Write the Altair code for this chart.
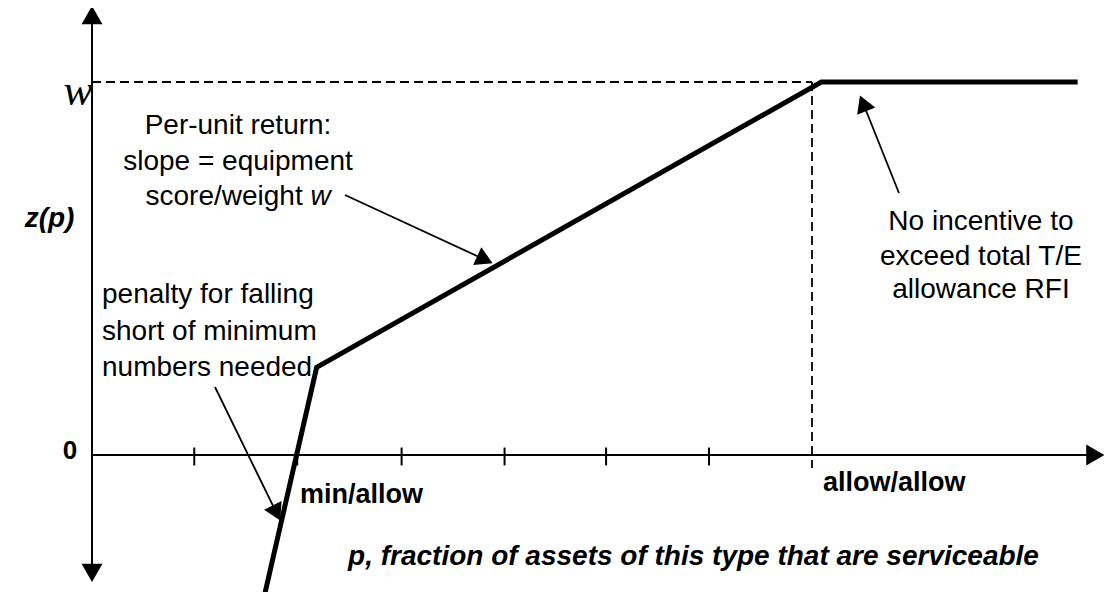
import math
import altair as alt
import pandas as pd

# ---------------- scale set-up (data units: p = fraction, z = score, W = 1) -------------
X_DOMAIN = [-0.1167, 1.4056]
Y_DOMAIN = [-0.3673, 1.1984]
WIDTH, HEIGHT = 1096, 584
KX = WIDTH / (X_DOMAIN[1] - X_DOMAIN[0])
KY = HEIGHT / (Y_DOMAIN[1] - Y_DOMAIN[0])

# ---------------- data ----------------
curve_p = [0.238, 0.312, 1.013, 1.369]
curve_z = [-0.389, 0.235, 1.0, 1.0]

tick_p = [0.142, 0.285, 0.430, 0.573, 0.714, 0.857]
allow_p = 1.0
w_level = 1.0

# annotation arrows: start (p, z) -> tip (p, z)
arrow_from_p = [0.3514, 0.1708, 1.1208]
arrow_from_z = [0.6971, 0.1823, 0.7024]
arrow_to_p = [0.5528, 0.2597, 1.0681]
arrow_to_z = [0.5174, -0.1689, 0.9571]

# axis extents (arrow tips)
yaxis_top, yaxis_bottom = 1.1957, -0.3324
xaxis_right = 1.402

# text blocks
per_unit_lines = ["Per-unit return:", "slope = equipment"]
per_unit_p = 0.2028
per_unit_z = [0.882, 0.7855]
score_text, score_p, score_z = "score/weight", 0.2926, 0.6917
w_italic_p = 0.3035

penalty_lines = ["penalty for falling", "short of minimum", "numbers needed"]
penalty_p = 0.0139
penalty_z = [0.429, 0.3298, 0.2332]

incentive_lines = ["No incentive to", "exceed total T/E", "allowance RFI"]
incentive_p = 1.2347
incentive_z = [0.6247, 0.5308, 0.4424]

bold_labels = ["min/allow", "allow/allow"]
bold_label_p = [0.2889, 1.0153]
bold_label_z = [-0.1072, -0.0751]

x_title, x_title_p, x_title_z = "p, fraction of assets of this type that are serviceable", 0.3556, -0.2735
y_title, y_title_p, y_title_z = "z(p)", -0.0590, 0.632
zero_label, zero_p, zero_z = "0", -0.0306, 0.0107
w_label, w_label_p, w_label_z = "w", -0.0194, 0.9383

FONT = "Liberation Sans"

xs = alt.Scale(domain=X_DOMAIN, nice=False, zero=False)
ys = alt.Scale(domain=Y_DOMAIN, nice=False, zero=False)
X = lambda f="p": alt.X(f"{f}:Q", scale=xs, axis=None)
Y = lambda f="z": alt.Y(f"{f}:Q", scale=ys, axis=None)


def head(tip_p, tip_z, from_p, from_z, size):
    dx = (tip_p - from_p) * KX
    dy = -(tip_z - from_z) * KY
    L = math.hypot(dx, dy)
    ux, uy = dx / L, dy / L
    h = math.sqrt(3) * math.sqrt(size) / 4
    cp = tip_p - ux * h / KX
    cz = tip_z + uy * h / KY
    ang = math.degrees(math.atan2(dx, -dy)) % 360
    return dict(p=cp, z=cz, angle=ang, size=size)


# ---------------- layers ----------------
curve_df = pd.DataFrame({"p": curve_p, "z": curve_z, "i": range(len(curve_p))})
curve = alt.Chart(curve_df).mark_line(color="black", strokeWidth=5, clip=True, strokeJoin="miter").encode(
    x=X(), y=Y(), order="i:Q")

axes_df = pd.DataFrame({
    "p": [0.0, 0.0], "z": [yaxis_bottom + 0.02, 0.0],
    "p2": [0.0, xaxis_right - 0.01], "z2": [yaxis_top - 0.02, 0.0]})
axes = alt.Chart(axes_df).mark_rule(color="black", strokeWidth=2).encode(
    x=X(), y=Y(), x2=alt.X2("p2:Q"), y2=alt.Y2("z2:Q"))

ticks_df = pd.DataFrame({"p": tick_p, "z": [0.02] * len(tick_p), "z2": [-0.028] * len(tick_p)})
ticks = alt.Chart(ticks_df).mark_rule(color="black", strokeWidth=2).encode(
    x=X(), y=Y(), y2=alt.Y2("z2:Q"))

dash_df = pd.DataFrame({"p": [0.0, allow_p], "z": [w_level, w_level],
                        "p2": [allow_p, allow_p], "z2": [w_level, -0.035]})
dashes = alt.Chart(dash_df).mark_rule(color="black", strokeWidth=1.8, strokeDash=[9, 5]).encode(
    x=X(), y=Y(), x2=alt.X2("p2:Q"), y2=alt.Y2("z2:Q"))

arrow_df = pd.DataFrame({"p": arrow_from_p, "z": arrow_from_z, "p2": arrow_to_p, "z2": arrow_to_z})
arrows = alt.Chart(arrow_df).mark_rule(color="black", strokeWidth=1.8).encode(
    x=X(), y=Y(), x2=alt.X2("p2:Q"), y2=alt.Y2("z2:Q"))

heads = [head(tp, tz, fp, fz, 380) for fp, fz, tp, tz in zip(arrow_from_p, arrow_from_z, arrow_to_p, arrow_to_z)]
heads.append(head(0.0, yaxis_top, 0.0, 0.0, 440))
heads.append(head(0.0, yaxis_bottom, 0.0, 0.0, 440))
heads.append(head(xaxis_right, 0.0, 0.0, 0.0, 440))
heads_df = pd.DataFrame(heads)
arrowheads = alt.Chart(heads_df).mark_point(shape="triangle", filled=True, color="black", opacity=1).encode(
    x=X(), y=Y(), angle=alt.Angle("angle:Q", scale=None), size=alt.Size("size:Q", scale=None))


def text_layer(df, **kw):
    return alt.Chart(df).mark_text(color="black", font=FONT, **kw).encode(x=X(), y=Y(), text="t:N")


t_per = text_layer(pd.DataFrame({"p": [per_unit_p] * 2, "z": per_unit_z, "t": per_unit_lines}),
                   fontSize=28, align="center", baseline="middle")
t_score = text_layer(pd.DataFrame({"p": [score_p], "z": [score_z], "t": [score_text]}),
                     fontSize=28, align="right", baseline="middle")
t_w_it = text_layer(pd.DataFrame({"p": [w_italic_p], "z": [score_z], "t": ["w"]}),
                    fontSize=28, align="left", baseline="middle", fontStyle="italic")
t_pen = text_layer(pd.DataFrame({"p": [penalty_p] * 3, "z": penalty_z, "t": penalty_lines}),
                   fontSize=28, align="left", baseline="middle")
t_inc = text_layer(pd.DataFrame({"p": [incentive_p] * 3, "z": incentive_z, "t": incentive_lines}),
                   fontSize=28, align="center", baseline="middle")
t_bold = text_layer(pd.DataFrame({"p": bold_label_p, "z": bold_label_z, "t": bold_labels}),
                    fontSize=27, align="left", baseline="middle", fontWeight="bold")
t_xt = text_layer(pd.DataFrame({"p": [x_title_p], "z": [x_title_z], "t": [x_title]}),
                  fontSize=28, align="left", baseline="middle", fontWeight="bold", fontStyle="italic")
t_yt = text_layer(pd.DataFrame({"p": [y_title_p], "z": [y_title_z], "t": [y_title]}),
                  fontSize=28, align="center", baseline="middle", fontWeight="bold", fontStyle="italic")
t_zero = text_layer(pd.DataFrame({"p": [zero_p], "z": [zero_z], "t": [zero_label]}),
                    fontSize=26, align="center", baseline="middle", fontWeight="bold")
t_wl = alt.Chart(pd.DataFrame({"p": [w_label_p], "z": [w_label_z], "t": [w_label]})).mark_text(
    color="black", font="Liberation Serif", fontSize=44, fontStyle="italic", align="center",
    baseline="alphabetic").encode(x=X(), y=Y(), text="t:N")

chart = alt.layer(
    dashes, axes, ticks, curve, arrows, arrowheads,
    t_per, t_score, t_w_it, t_pen, t_inc, t_bold, t_xt, t_yt, t_zero, t_wl
).properties(
    width=WIDTH, height=HEIGHT, padding=0, autosize=alt.AutoSizeParams(type="none"),
    background="white"
).configure_view(stroke=None)

chart.save("out.html", embed_options={"renderer": "svg", "actions": False})
